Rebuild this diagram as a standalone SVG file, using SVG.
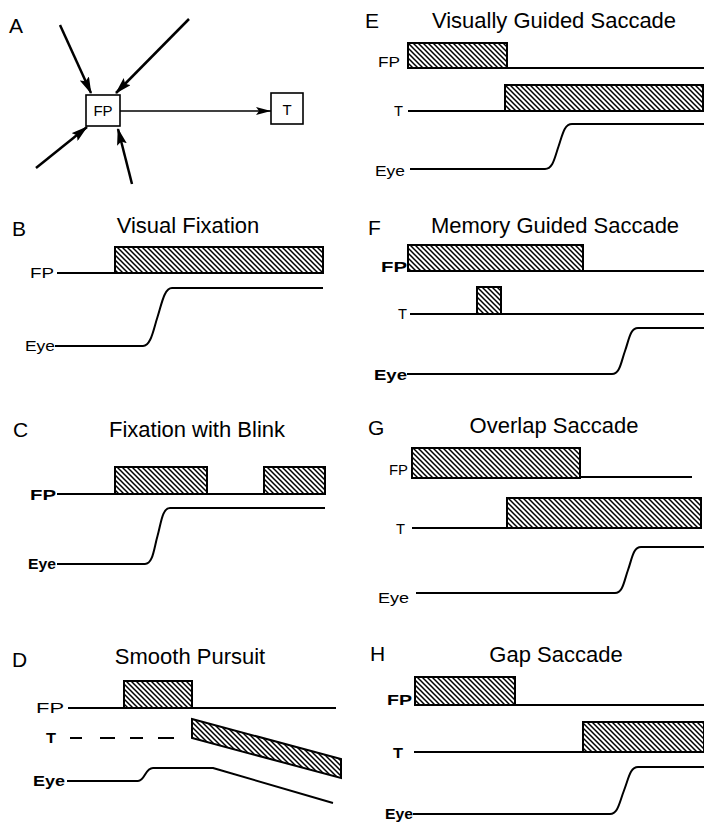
<svg xmlns="http://www.w3.org/2000/svg" width="704" height="823" viewBox="0 0 704 823">
<style>
text{font-family:"Liberation Sans",Arial,Helvetica,sans-serif;fill:#000}
.pl{font-size:21px}
.ti{font-size:22px;text-anchor:middle}
.lb{font-size:15px;text-anchor:end}
.bd{font-weight:bold}
.ln{fill:none;stroke:#000;stroke-width:2;stroke-linecap:butt;stroke-linejoin:round}
.hb{fill:url(#hatch);stroke:#000;stroke-width:2}
.box{fill:#fff;stroke:#000;stroke-width:1.6}
.arr{stroke:#000;stroke-width:2.5;fill:none}
.arr2{stroke:#000;stroke-width:1.6;fill:none}
</style>
<defs>
<pattern id="hatch" patternUnits="userSpaceOnUse" width="5" height="5">
<rect width="5" height="5" fill="#fff"/>
<path d="M-1,-1 L6,6 M-1,4 L1,6 M4,-1 L6,1" stroke="#000" stroke-width="1.5"/>
</pattern>
<marker id="ah" markerUnits="userSpaceOnUse" markerWidth="17" markerHeight="10" refX="16" refY="5" orient="auto">
<path d="M0,0 L17,5 L0,10 L3,5 z" fill="#000"/>
</marker>
<marker id="ah2" markerUnits="userSpaceOnUse" markerWidth="15" markerHeight="8" refX="15" refY="4" orient="auto">
<path d="M0,0 L15,4 L0,8 L3,4 z" fill="#000"/>
</marker>
</defs>
<rect width="704" height="823" fill="#fff"/>

<!-- Panel A -->
<g id="panelA">
<text class="pl" x="9" y="33">A</text>
<g id="connectors">
<line class="arr" x1="60" y1="25" x2="91" y2="93" marker-end="url(#ah)"/>
<line class="arr" x1="189" y1="19" x2="116" y2="93" marker-end="url(#ah)"/>
<line class="arr" x1="36" y1="168" x2="87" y2="127" marker-end="url(#ah)"/>
<line class="arr" x1="132" y1="184" x2="118" y2="129" marker-end="url(#ah)"/>
<line class="arr2" x1="120" y1="111" x2="271" y2="111" marker-end="url(#ah2)"/>
</g>
<g id="nodeFP">
<rect class="box" x="86" y="95" width="34" height="31"/>
<text x="103" y="116" font-size="15" text-anchor="middle">FP</text>
</g>
<g id="nodeT">
<rect class="box" x="271" y="93" width="32" height="31"/>
<text x="287" y="115" font-size="15" text-anchor="middle">T</text>
</g>
</g>

<!-- Panel B -->
<g id="panelB">
<text class="pl" x="12" y="236">B</text>
<text class="ti" x="188" y="233">Visual Fixation</text>
<text class="lb" x="54" y="278" textLength="24" lengthAdjust="spacingAndGlyphs">FP</text>
<path class="ln" d="M57,273 H115"/>
<rect class="hb" x="115" y="247" width="208" height="26"/>
<text class="lb" x="55" y="351" textLength="30" lengthAdjust="spacingAndGlyphs">Eye</text>
<path class="ln" d="M55,346 H143 C151,346 153.5,329 157.5,317 S164,288 172,288 H323"/>
</g>

<!-- Panel C -->
<g id="panelC">
<text class="pl" x="13" y="437">C</text>
<text class="ti" x="197" y="437">Fixation with Blink</text>
<text class="lb bd" x="56" y="500" textLength="26" lengthAdjust="spacingAndGlyphs">FP</text>
<path class="ln" d="M57,494 H325"/>
<rect class="hb" x="115" y="467" width="92" height="27"/>
<rect class="hb" x="264" y="467" width="61" height="27"/>
<text class="lb bd" x="56" y="569" textLength="28" lengthAdjust="spacingAndGlyphs">Eye</text>
<path class="ln" d="M57,564 H145 C153,564 154,548 157.5,536 S162,508 170,508 H325"/>
</g>

<!-- Panel D -->
<g id="panelD">
<text class="pl" x="12" y="667">D</text>
<text class="ti" x="190" y="664">Smooth Pursuit</text>
<text class="lb" x="64" y="713" textLength="28" lengthAdjust="spacingAndGlyphs">FP</text>
<path class="ln" d="M68,708 H336"/>
<rect class="hb" x="124" y="681" width="68" height="27"/>
<text class="lb bd" x="56" y="743" textLength="10" lengthAdjust="spacingAndGlyphs">T</text>
<path class="ln" d="M70,738 H82 M100,738 H115 M130,738 H143 M158,738 H174" stroke-width="2.4"/>
<polygon class="hb" points="192,719 341,759 341,778 192,738"/>
<text class="lb bd" x="65" y="786" textLength="32" lengthAdjust="spacingAndGlyphs">Eye</text>
<path class="ln" d="M67,781 H138 C145,781 145,768 153,768 H213 L333,803"/>
</g>

<!-- Panel E -->
<g id="panelE">
<text class="pl" x="365" y="28">E</text>
<text class="ti" x="554" y="28">Visually Guided Saccade</text>
<text class="lb" x="400" y="67" textLength="22" lengthAdjust="spacingAndGlyphs">FP</text>
<rect class="hb" x="408" y="43" width="99" height="25"/>
<path class="ln" d="M507,68 H704"/>
<text class="lb" x="403" y="116" textLength="9" lengthAdjust="spacingAndGlyphs">T</text>
<path class="ln" d="M408,111 H505"/>
<rect class="hb" x="505" y="85" width="198" height="26"/>
<text class="lb" x="405" y="176" textLength="30" lengthAdjust="spacingAndGlyphs">Eye</text>
<path class="ln" d="M410,169 H545 C553,169 554.5,158 558.5,146.5 S564,124 572,124 H704"/>
</g>

<!-- Panel F -->
<g id="panelF">
<text class="pl" x="368" y="235">F</text>
<text class="ti" x="555" y="233">Memory Guided Saccade</text>
<text class="lb bd" x="407" y="272" textLength="26" lengthAdjust="spacingAndGlyphs">FP</text>
<rect class="hb" x="408" y="245" width="175" height="26"/>
<path class="ln" d="M583,271 H704"/>
<text class="lb" x="407" y="319" textLength="9" lengthAdjust="spacingAndGlyphs">T</text>
<path class="ln" d="M410,314 H704"/>
<rect class="hb" x="477" y="287" width="24" height="27"/>
<text class="lb bd" x="407" y="380" textLength="33" lengthAdjust="spacingAndGlyphs">Eye</text>
<path class="ln" d="M407,374 H612 C620,374 621,362 625,351 S630,328 638,328 H704"/>
</g>

<!-- Panel G -->
<g id="panelG">
<text class="pl" x="368" y="435">G</text>
<text class="ti" x="554" y="433">Overlap Saccade</text>
<text class="lb" x="408" y="475" textLength="19" lengthAdjust="spacingAndGlyphs">FP</text>
<rect class="hb" x="412" y="448" width="168" height="30"/>
<path class="ln" d="M580,477 H692"/>
<text class="lb" x="405" y="534" textLength="9" lengthAdjust="spacingAndGlyphs">T</text>
<path class="ln" d="M412,528 H507"/>
<rect class="hb" x="507" y="498" width="194" height="30"/>
<text class="lb" x="409" y="603" textLength="31" lengthAdjust="spacingAndGlyphs">Eye</text>
<path class="ln" d="M416,593 H615 C623,593 624,581 628,570 S633,547 641,547 H704"/>
</g>

<!-- Panel H -->
<g id="panelH">
<text class="pl" x="370" y="661">H</text>
<text class="ti" x="556" y="662">Gap Saccade</text>
<text class="lb bd" x="412" y="705" textLength="25" lengthAdjust="spacingAndGlyphs">FP</text>
<rect class="hb" x="415" y="677" width="100" height="28"/>
<path class="ln" d="M515,705 H704"/>
<text class="lb bd" x="403" y="758" textLength="10" lengthAdjust="spacingAndGlyphs">T</text>
<path class="ln" d="M414,752 H583"/>
<rect class="hb" x="583" y="722" width="121" height="30"/>
<text class="lb bd" x="413" y="819" font-size="14" textLength="28" lengthAdjust="spacingAndGlyphs">Eye</text>
<path class="ln" d="M413,814 H610 C618,814 619.5,802 624,790.5 S630,767 638,767 H704"/>
</g>
</svg>
